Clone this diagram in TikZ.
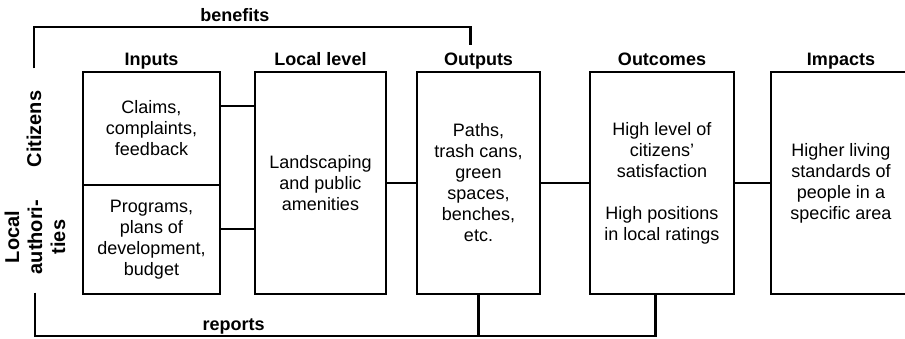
\documentclass[tikz,border=0pt]{standalone}
\usepackage{fontspec}
\setmainfont{Liberation Sans}
\usetikzlibrary{positioning, calc}

\begin{document}
\begin{tikzpicture}[
  node distance=17.5pt,
  box/.style={draw, line width=1.2pt, outer sep=0pt, inner sep=2pt,
              minimum height=111pt, align=center,
              font=\fontsize{9}{10.5}\selectfont},
  head/.style={font=\fontsize{9}{10.5}\selectfont\bfseries, inner sep=0pt,
               text height=6.6pt, text depth=1.9pt},
  side/.style={font=\fontsize{10}{11.5}\selectfont\bfseries, align=center,
               rotate=90, inner sep=0pt},
  link/.style={line width=1.2pt},
]
  \useasboundingbox (0,0) rectangle (452.5pt,-169pt);

  \node[box, minimum width=68.5pt, minimum height=56.5pt, anchor=north west]
    (claims) at (41.5pt,-36pt) {Claims,\\complaints,\\feedback};
  \node[box, minimum width=68.5pt, minimum height=54.5pt, below=0pt of claims]
    (plans) {Programs,\\plans of\\development,\\budget};
  \node[box, minimum width=65.5pt, right=17.5pt of claims.north east, anchor=north west]
    (local) {Landscaping\\and public\\amenities};
  \node[box, minimum width=61.5pt, right=15.5pt of local]
    (outputs) {Paths,\\trash cans,\\green\\spaces,\\benches,\\etc.};
  \node[box, minimum width=72pt, right=25pt of outputs]
    (outcomes) {High level of\\citizens’\\satisfaction\\[10.5pt]High positions\\in local ratings};
  \node[box, minimum width=70pt, right=18.5pt of outcomes]
    (impacts) {Higher living\\standards of\\people in a\\specific area};

  \node[head, above=1pt of claims] (tinputs) {Inputs};
  \node[head, above=1pt of local] (tlocal) {Local level};
  \node[head, above=1pt of outputs] (toutputs) {Outputs};
  \node[head, above=1pt of outcomes] (toutcomes) {Outcomes};
  \node[head, above=1pt of impacts] (timpacts) {Impacts};

  \node[side] (cit) at (17pt,-64.5pt) {Citizens};
  \node[side] (auth) at (17.5pt,-118.5pt) {Local\\authori-\\ties};

  \draw[link] ([yshift=11.25pt]claims.east) coordinate (c1) -- (c1 -| local.west);
  \draw[link] ([yshift=5.25pt]plans.east) coordinate (c2) -- (c2 -| local.west);
  \draw[link] (local) -- (outputs);
  \draw[link] (outputs) -- (outcomes);
  \draw[link] (outcomes) -- (impacts);

  \coordinate (bentop) at (0,-13.5pt);
  \coordinate (repbase) at ($(outcomes.south)+(-3.25pt,-21pt)$);

  \draw[link] ([yshift=11pt]cit.east) coordinate (b0) -- (b0 |- bentop)
    -| node[head, pos=.23, above=.5pt] (benefits) {benefits}
    ($(toutputs.north)+(-4pt,3.5pt)$);
  \draw[link] ([yshift=-9pt]auth.west) coordinate (r0) |- node[head, pos=.66, above=.5pt] (reports) {reports}
    (repbase) -- ([xshift=-3.25pt]outcomes.south);
  \draw[link] (outputs.south) -- (outputs.south |- repbase);
\end{tikzpicture}
\end{document}
